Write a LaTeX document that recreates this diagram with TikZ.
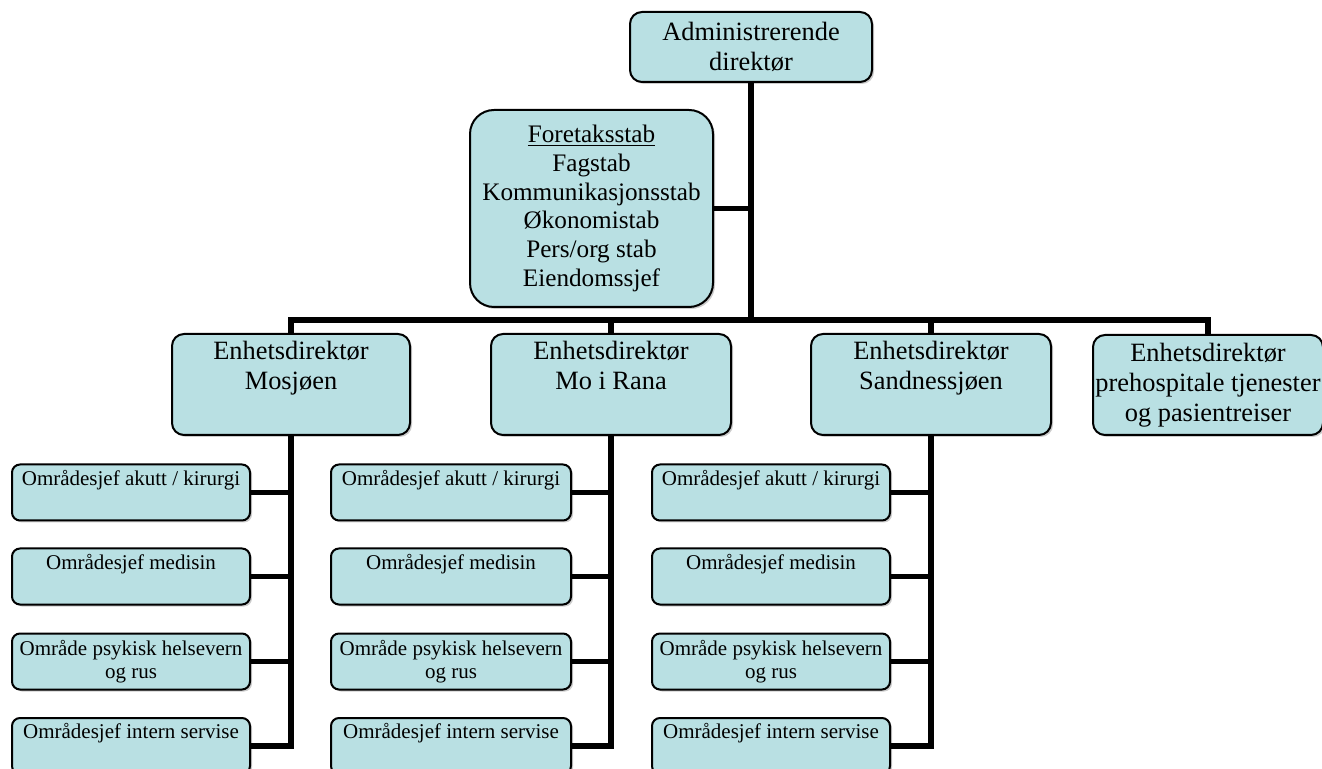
\documentclass[tikz,border=0pt]{standalone}
\usepackage{fontspec}
\setmainfont{Liberation Serif}
\usetikzlibrary{shadows}
\definecolor{boksfarge}{RGB}{185,224,227}
\tikzset{
  boks/.style={draw=black, line width=1pt, fill=boksfarge, rounded corners=6pt, align=center, inner sep=0pt,
    drop shadow={shadow xshift=1pt, shadow yshift=-1pt, fill=black!40, opacity=0.5}},
  leder/.style={boks, minimum width=120pt, font=\fontsize{13.2}{15}\selectfont},
  omrade/.style={boks, minimum width=119pt, minimum height=28pt, rounded corners=4pt, font=\fontsize{10.5}{11.5}\selectfont},
  linje/.style={line width=2.7pt, black},
}
\begin{document}
\begin{tikzpicture}[x=0.5pt,y=-0.5pt]
  \useasboundingbox (0,0) rectangle (1322,769);
  \clip (0,0) rectangle (1322,769);

  % toppledelse og stab
  \node[leder, minimum width=121pt, minimum height=35pt] (administrerendeDirektor) at (751,47) {Administrerende\\direktør};
  \node[leder, minimum width=121.5pt, minimum height=98.5pt, rounded corners=12pt, font=\fontsize{12.6}{14.4}\selectfont] (foretaksstab) at (591.5,208.5) {\underline{Foretaksstab}\\Fagstab\\Kommunikasjonsstab\\Økonomistab\\Pers/org stab\\Eiendomssjef};
  \coordinate (skinne) at (0,320);

  % enhetsdirektorer
  \node[leder, minimum width=119pt, minimum height=50.5pt] (enhetMosjoen) at (291,384.5) {Enhetsdirektør\\Mosjøen\\\strut};
  \node[leder, minimum height=50.5pt] (enhetMoIRana) at (611,384.5) {Enhetsdirektør\\Mo i Rana\\\strut};
  \node[leder, minimum height=50.5pt] (enhetSandnessjoen) at (931,384.5) {Enhetsdirektør\\Sandnessjøen\\\strut};
  \node[leder, minimum width=115pt, minimum height=50pt] (enhetPrehospital) at (1208,385) {Enhetsdirektør\\prehospitale tjenester\\og pasientreiser};

  % omrader Mosjoen
  \node[omrade] (akuttMosjoen) at (131,492.5) {Områdesjef akutt / kirurgi\\\strut};
  \node[omrade] (medisinMosjoen) at (131,576.5) {Områdesjef medisin\\\strut};
  \node[omrade] (psykiskMosjoen) at (131,661.5) {Område psykisk helsevern\\og rus};
  \node[omrade] (servisMosjoen) at (131,746) {Områdesjef intern servise\\\strut};

  % omrader Mo i Rana
  \node[omrade, minimum width=120pt] (akuttMoIRana) at (451,492.5) {Områdesjef akutt / kirurgi\\\strut};
  \node[omrade, minimum width=120pt] (medisinMoIRana) at (451,576.5) {Områdesjef medisin\\\strut};
  \node[omrade, minimum width=120pt] (psykiskMoIRana) at (451,661.5) {Område psykisk helsevern\\og rus};
  \node[omrade, minimum width=120pt] (servisMoIRana) at (451,746) {Områdesjef intern servise\\\strut};

  % omrader Sandnessjoen
  \node[omrade] (akuttSandnessjoen) at (771,492.5) {Områdesjef akutt / kirurgi\\\strut};
  \node[omrade] (medisinSandnessjoen) at (771,576.5) {Områdesjef medisin\\\strut};
  \node[omrade] (psykiskSandnessjoen) at (771,661.5) {Område psykisk helsevern\\og rus};
  \node[omrade] (servisSandnessjoen) at (771,746) {Områdesjef intern servise\\\strut};

  % linjer
  \draw[linje] (foretaksstab.east) -- (foretaksstab.east -| administrerendeDirektor.south);
  \draw[linje] (administrerendeDirektor.south) -- (administrerendeDirektor.south |- skinne) -| (enhetMosjoen.north);
  \draw[linje] (administrerendeDirektor.south) -- (administrerendeDirektor.south |- skinne) -| (enhetMoIRana.north);
  \draw[linje] (administrerendeDirektor.south) -- (administrerendeDirektor.south |- skinne) -| (enhetSandnessjoen.north);
  \draw[linje] (administrerendeDirektor.south) -- (administrerendeDirektor.south |- skinne) -| (enhetPrehospital.north);

  \draw[linje] (enhetMosjoen.south) |- (akuttMosjoen.east);
  \draw[linje] (enhetMosjoen.south) |- (medisinMosjoen.east);
  \draw[linje] (enhetMosjoen.south) |- (psykiskMosjoen.east);
  \draw[linje] (enhetMosjoen.south) |- (servisMosjoen.east);

  \draw[linje] (enhetMoIRana.south) |- (akuttMoIRana.east);
  \draw[linje] (enhetMoIRana.south) |- (medisinMoIRana.east);
  \draw[linje] (enhetMoIRana.south) |- (psykiskMoIRana.east);
  \draw[linje] (enhetMoIRana.south) |- (servisMoIRana.east);

  \draw[linje] (enhetSandnessjoen.south) |- (akuttSandnessjoen.east);
  \draw[linje] (enhetSandnessjoen.south) |- (medisinSandnessjoen.east);
  \draw[linje] (enhetSandnessjoen.south) |- (psykiskSandnessjoen.east);
  \draw[linje] (enhetSandnessjoen.south) |- (servisSandnessjoen.east);
\end{tikzpicture}
\end{document}
